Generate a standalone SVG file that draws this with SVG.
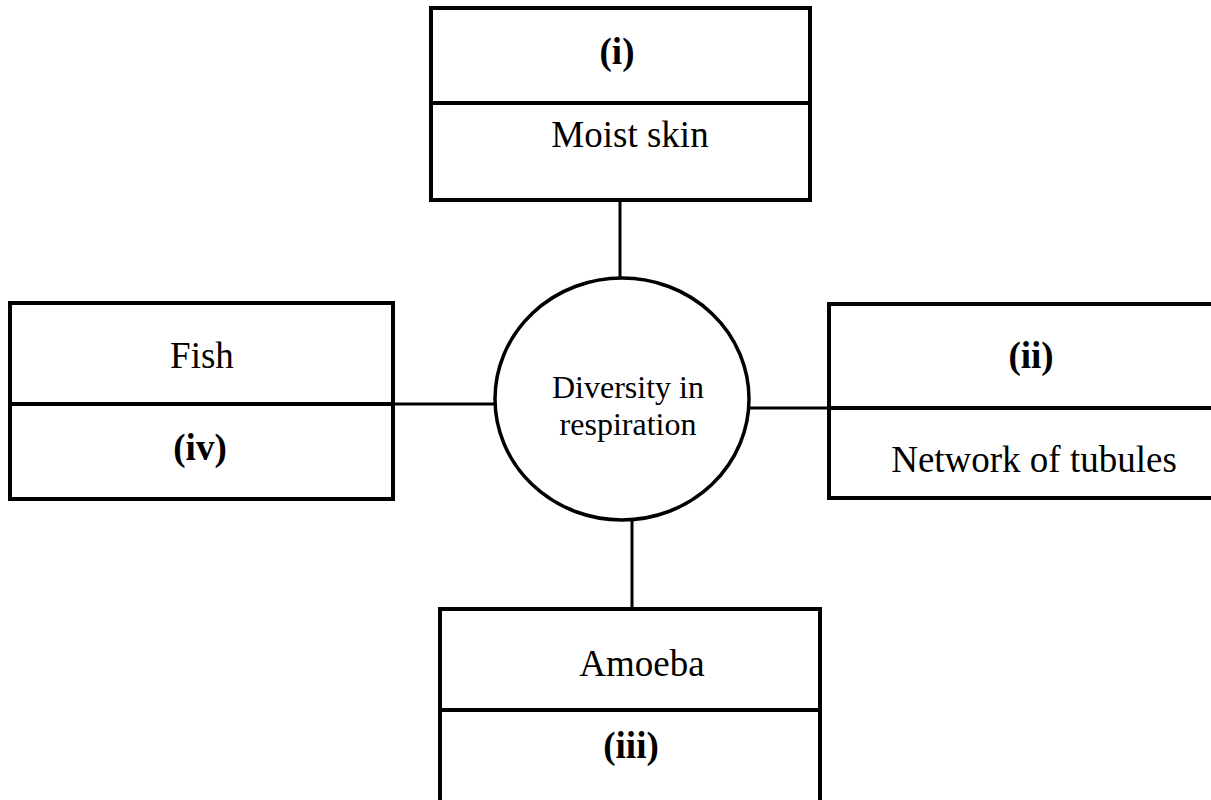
<svg xmlns="http://www.w3.org/2000/svg" width="1211" height="800" viewBox="0 0 1211 800">
<style>
.box{fill:#fff;stroke:#000;stroke-width:4}
.div{stroke:#000;stroke-width:4}
.con{stroke:#000;stroke-width:3;fill:none}
.t{font-family:"Liberation Serif",serif;font-size:37px;text-anchor:middle;fill:#000}
.b{font-weight:bold}
.c{font-family:"Liberation Serif",serif;font-size:32px;text-anchor:middle;fill:#000}
</style>
<rect width="1211" height="800" fill="#fff"/>
<g id="connectors">
<line class="con" x1="620" y1="200" x2="620" y2="279"/>
<line class="con" x1="393" y1="404" x2="496" y2="404"/>
<line class="con" x1="748" y1="408" x2="829" y2="408"/>
<line class="con" x1="632" y1="519" x2="632" y2="609"/>
</g>
<g id="center">
<ellipse cx="622" cy="399" rx="127" ry="121" fill="#fff" stroke="#000" stroke-width="3.5"/>
<text class="c" x="628" y="398">Diversity in</text>
<text class="c" x="628" y="435">respiration</text>
</g>
<g id="top">
<rect class="box" x="431" y="8" width="379" height="192"/>
<line class="div" x1="431" y1="103" x2="810" y2="103"/>
<text class="t b" x="617" y="64">(i)</text>
<text class="t" x="630" y="147">Moist skin</text>
</g>
<g id="left">
<rect class="box" x="10" y="303" width="383" height="196"/>
<line class="div" x1="10" y1="404" x2="393" y2="404"/>
<text class="t" x="202" y="368">Fish</text>
<text class="t b" x="200" y="460">(iv)</text>
</g>
<g id="right">
<rect class="box" x="829" y="304" width="390" height="194"/>
<line class="div" x1="829" y1="408" x2="1219" y2="408"/>
<text class="t b" x="1031" y="368">(ii)</text>
<text class="t" x="1034" y="472">Network of tubules</text>
</g>
<g id="bottom">
<rect class="box" x="440" y="609" width="380" height="200"/>
<line class="div" x1="440" y1="710" x2="820" y2="710"/>
<text class="t" x="642" y="676">Amoeba</text>
<text class="t b" x="631" y="758">(iii)</text>
</g>
</svg>
